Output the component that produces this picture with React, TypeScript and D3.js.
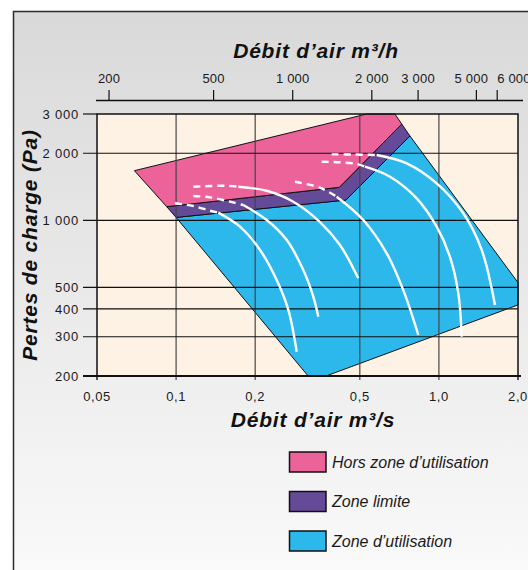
import React from 'react';
import * as d3 from 'd3';

type Pt = [number, number];

// Axis ticks
const flowTicks = [0.05, 0.1, 0.2, 0.5, 1.0, 2.0];
const flowTickLabels = ['0,05', '0,1', '0,2', '0,5', '1,0', '2,0'];
const pressureTicks = [200, 300, 400, 500, 1000, 2000, 3000];
const pressureTickLabels = ['200', '300', '400', '500', '1 000', '2 000', '3 000'];
const hourTicks = [200, 500, 1000, 2000, 3000, 5000, 6000];
const hourTickLabels = ['200', '500', '1 000', '2 000', '3 000', '5 000', '6 000'];

// Zones (flow m3/s, pressure Pa)
const zoneHors: Pt[] = [[0.0694, 1670], [0.531, 3000], [0.68, 3000], [0.722, 2704], [0.418, 1406], [0.0921, 1151]];
const zoneLimite: Pt[] = [[0.0921, 1151], [0.418, 1406], [0.722, 2704], [0.776, 2390], [0.443, 1233], [0.1, 1030]];
const zoneUtil: Pt[] = [[0.1, 1030], [0.443, 1233], [0.776, 2390], [2.0, 525], [2.0, 417], [0.372, 200], [0.318, 200]];

// Fan curves: dashed part then solid part
const curve1Dashed: Pt[] = [[0.099, 1192], [0.1163, 1159], [0.1346, 1104], [0.1447, 1082]];
const curve1Solid: Pt[] = [[0.1447, 1082], [0.175, 936], [0.2086, 736], [0.2414, 539], [0.2673, 396], [0.2877, 257]];
const curve2Dashed: Pt[] = [[0.1163, 1285], [0.1346, 1268], [0.1603, 1212], [0.1802, 1171]];
const curve2Solid: Pt[] = [[0.1802, 1171], [0.2212, 1003], [0.2636, 815], [0.3048, 598], [0.3327, 454], [0.3476, 369]];
const curve3Dashed: Pt[] = [[0.1163, 1415], [0.1346, 1425], [0.1558, 1429], [0.1725, 1415]];
const curve3Solid: Pt[] = [[0.1725, 1415], [0.2212, 1357], [0.2792, 1212], [0.3528, 982], [0.4203, 775], [0.4935, 549]];
const curve4Dashed: Pt[] = [[0.2834, 1490], [0.3528, 1400], [0.4085, 1276]];
const curve4Solid: Pt[] = [[0.4085, 1276], [0.5155, 1003], [0.633, 711], [0.732, 486], [0.835, 306]];
const curve5Dashed: Pt[] = [[0.358, 1832], [0.4203, 1821], [0.4866, 1789], [0.5235, 1740]];
const curve5Solid: Pt[] = [[0.5235, 1740], [0.6516, 1569], [0.823, 1255], [0.981, 936], [1.1016, 686], [1.1856, 470], [1.2214, 300]];
const curve6Dashed: Pt[] = [[0.3909, 1977], [0.4794, 1973], [0.5798, 1963]];
const curve6Solid: Pt[] = [[0.5798, 1963], [0.754, 1802], [0.981, 1465], [1.2385, 1075], [1.455, 736], [1.6345, 417]];

const dashedCurves = [curve1Dashed, curve2Dashed, curve3Dashed, curve4Dashed, curve5Dashed, curve6Dashed];
const solidCurves = [curve1Solid, curve2Solid, curve3Solid, curve4Solid, curve5Solid, curve6Solid];

const legendLabels = ['Hors zone d’utilisation', 'Zone limite', 'Zone d’utilisation'];
const legendColors = ['#ec6399', '#654a98', '#2db8ec'];

const FONT = '"Liberation Sans", Arial, Helvetica, sans-serif';

export default function App() {
  const W = 528, H = 570;
  const left = 97, right = 518, top = 114, bottom = 376;
  const x = d3.scaleLog().domain([0.05, 2]).range([left, right]);
  const y = d3.scaleLog().domain([200, 3000]).range([bottom, top]);
  // m3/h axis: same scale as m3/s, converted (1 m3/s = 3600 m3/h)
  const xh = d3.scaleLog().domain([0.05 * 3600, 2 * 3600]).range([left, right]);

  const poly = d3.line<Pt>().x(d => x(d[0])).y(d => y(d[1])).curve(d3.curveLinearClosed);
  const curve = d3.line<Pt>().x(d => x(d[0])).y(d => y(d[1])).curve(d3.curveCatmullRom.alpha(0.5));

  const topAxisY = 100.5;
  const n = hourTicks.length;

  return (
    <svg width={W} height={H} style={{ position: 'absolute', left: 0, top: 0, background: '#fff' }} fontFamily={FONT}>
      <defs>
        <linearGradient id="bg" x1="0" y1="0" x2="0" y2="1">
          <stop offset="0" stopColor="#d9d9d9" />
          <stop offset="1" stopColor="#fcfcfc" />
        </linearGradient>
      </defs>
      <rect x={13.5} y={11.5} width={600} height={600} fill="url(#bg)" stroke="#2a2a2a" strokeWidth={1.5} />

      {/* plot background */}
      <rect x={left} y={top} width={right - left} height={bottom - top} fill="#fdf2e4" />

      {/* zones */}
      <path d={poly(zoneUtil) || ''} fill="#2db8ec" stroke="#111" strokeWidth={1} />
      <path d={poly(zoneLimite) || ''} fill="#654a98" stroke="#111" strokeWidth={1} />
      <path d={poly(zoneHors) || ''} fill="#ec6399" stroke="#111" strokeWidth={1} />

      {/* grid */}
      {flowTicks.filter(v => v > 0.05 && v < 2).map(v => (
        <line key={'vx' + v} x1={x(v)} x2={x(v)} y1={top} y2={bottom + 4} stroke="#444" strokeOpacity={0.85} strokeWidth={1.4} />
      ))}
      {pressureTicks.filter(v => v > 200 && v < 3000).map(v => (
        <line key={'hy' + v} x1={left - 14} x2={right} y1={y(v)} y2={y(v)} stroke="#111" strokeWidth={1.2} />
      ))}
      <line x1={left - 14} x2={left} y1={y(3000)} y2={y(3000)} stroke="#111" strokeWidth={1.2} />
      <rect x={left} y={top} width={right - left} height={bottom - top} fill="none" stroke="#111" strokeWidth={1.5} />
      <line x1={left - 14} x2={right + 3} y1={bottom} y2={bottom} stroke="#111" strokeWidth={2} />
      {[0.05, 2].map(v => (
        <line key={'bt' + v} x1={x(v)} x2={x(v)} y1={bottom} y2={bottom + 4} stroke="#111" strokeWidth={1.4} />
      ))}

      {/* fan curves */}
      {solidCurves.map((c, i) => (
        <path key={'s' + i} d={curve(c) || ''} fill="none" stroke="#fff" strokeWidth={2.4} />
      ))}
      {dashedCurves.map((c, i) => (
        <path key={'d' + i} d={curve(c) || ''} fill="none" stroke="#fff" strokeWidth={2.4} strokeDasharray="7,5" />
      ))}

      {/* left axis labels */}
      {pressureTicks.map((v, i) => (
        <text key={'yl' + v} x={79} y={y(v)} dy="0.36em" textAnchor="end" fontSize={13} letterSpacing={0.8} fill="#1a1a1a">
          {pressureTickLabels[i]}
        </text>
      ))}
      {/* bottom axis labels */}
      {flowTicks.map((v, i) => (
        <text key={'xl' + v} x={x(v)} y={401} textAnchor="middle" fontSize={13} letterSpacing={0.6} fill="#1a1a1a">
          {flowTickLabels[i]}
        </text>
      ))}

      {/* top axis */}
      <line x1={96} x2={523} y1={topAxisY} y2={topAxisY} stroke="#111" strokeWidth={1.6} />
      {hourTicks.map((v, i) => (
        <g key={'ht' + v}>
          <line x1={xh(v)} x2={xh(v)} y1={90} y2={topAxisY} stroke="#111" strokeWidth={1.2} />
          <text
            x={xh(v) + (i === n - 1 ? 0 : i === n - 2 ? -5 : 0)}
            y={82.7}
            textAnchor={i === n - 1 ? 'start' : 'middle'}
            fontSize={13}
            letterSpacing={0.2}
            fill="#1a1a1a"
          >
            {hourTickLabels[i]}
          </text>
        </g>
      ))}

      {/* titles */}
      <text x={316} y={57.7} textAnchor="middle" fontSize={21} fontWeight="bold" fontStyle="italic" letterSpacing={0.8} fill="#111">
        Débit d’air m³/h
      </text>
      <text x={313} y={426.7} textAnchor="middle" fontSize={21} fontWeight="bold" fontStyle="italic" letterSpacing={0.8} fill="#111">
        Débit d’air m³/s
      </text>
      <text transform="translate(36.5,245) rotate(-90)" textAnchor="middle" fontSize={21} fontWeight="bold" fontStyle="italic" letterSpacing={0.8} fill="#111">
        Pertes de charge (Pa)
      </text>

      {/* legend */}
      {legendLabels.map((lab, i) => (
        <g key={'lg' + i} transform={`translate(289.5, ${452 + i * 39.5})`}>
          <rect x={0} y={0} width={36.5} height={20} fill={legendColors[i]} stroke="#111" strokeWidth={1.5} />
          <text x={42.5} y={15.8} fontSize={16} fontStyle="italic" fill="#1a1a1a">{lab}</text>
        </g>
      ))}
    </svg>
  );
}
